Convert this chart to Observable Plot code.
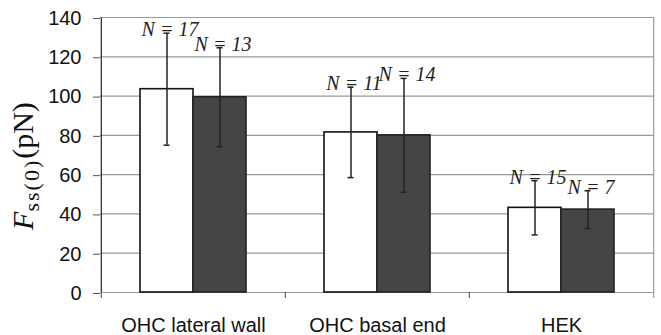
<!DOCTYPE html>
<html><head><meta charset="utf-8">
<script src="https://cdn.jsdelivr.net/npm/d3@7"></script>
<script src="https://cdn.jsdelivr.net/npm/@observablehq/plot@0.6"></script>
<style>body{margin:0;background:#fff}</style>
</head><body><div id="chart"></div>
<script>
const categories = ["OHC lateral wall", "OHC basal end", "HEK"];
const whiteMeans = [103.5, 81.5, 43.1];
const whiteErr = [28.5, 23, 13.8];
const whiteN = [17, 11, 15];
const darkMeans = [99.4, 80, 42.2];
const darkErr = [25.2, 29, 9.6];
const darkN = [13, 14, 7];
const yTicks = [0, 20, 40, 60, 80, 100, 120, 140];

const W = 661, H = 335, ml = 100, mr = 8, mt = 17, mb = 43;
const pIn = 0.425, pOut = pIn / 2;
const step = (W - ml - mr) / categories.length;
const half = step * (1 - pIn) / 2;

const white = categories.map((c, i) => ({cat: c, mean: whiteMeans[i], lo: whiteMeans[i] - whiteErr[i], hi: whiteMeans[i] + whiteErr[i], n: whiteN[i]}));
const dark = categories.map((c, i) => ({cat: c, mean: darkMeans[i], lo: darkMeans[i] - darkErr[i], hi: darkMeans[i] + darkErr[i], n: darkN[i]}));

const capW = 3;
const errMarks = (rows, side) => {
  const off = side * half / 2;
  return [
    Plot.ruleX(rows, {x: "cat", y1: "lo", y2: "hi", dx: off, stroke: "#222", strokeWidth: 1.5}),
    Plot.tickY(rows, {x: "cat", y: "hi", stroke: "#222", strokeWidth: 1.5,
      insetLeft: half + off - capW, insetRight: half - off - capW}),
    Plot.tickY(rows, {x: "cat", y: "lo", stroke: "#222", strokeWidth: 1.5,
      insetLeft: half + off - capW, insetRight: half - off - capW}),
    Plot.text(rows, {x: "cat", y: "hi", text: d => `N = ${d.n}`, dx: off + 3, dy: 3, lineAnchor: "bottom",
      fontFamily: "Liberation Serif", fontStyle: "italic", fontSize: 20, fill: "#222"})
  ];
};

const chart = Plot.plot({
  width: W, height: H,
  marginLeft: ml, marginRight: mr, marginTop: mt, marginBottom: mb,
  style: {fontFamily: "Liberation Sans", background: "#fff", color: "#111"},
  x: {type: "band", domain: categories, paddingInner: pIn, paddingOuter: pOut},
  y: {domain: [0, 140]},
  marks: [
    Plot.ruleY(yTicks, {stroke: "#999", strokeWidth: 1.2}),
    Plot.ruleX([categories[categories.length - 1]], {x: d => d, dx: step / 2, stroke: "#999", strokeWidth: 1.2}),
    Plot.ruleX(categories, {x: d => d, y1: 0, y2: 0, dx: -step / 2, insetBottom: -6, stroke: "#666", strokeWidth: 1.2}),
    Plot.ruleX([categories[categories.length - 1]], {x: d => d, y1: 0, y2: 0, dx: step / 2, insetBottom: -6, stroke: "#999", strokeWidth: 1.2}),
    Plot.barY(white, {x: "cat", y: "mean", fill: "#fff", stroke: "#111", strokeWidth: 1.6, insetRight: half}),
    Plot.barY(dark, {x: "cat", y: "mean", fill: "#454545", stroke: "#222", strokeWidth: 1.6, insetLeft: half}),
    ...errMarks(white, -1),
    ...errMarks(dark, 1),
    Plot.ruleX([categories[0]], {x: d => d, dx: -step / 2, stroke: "#333", strokeWidth: 1.3}),
    Plot.axisY(yTicks, {tickSize: 7, tickPadding: 12, fontSize: 20, dy: 1, stroke: "#555", label: null}),
    Plot.axisX({tickSize: 0, tickPadding: 25, fontSize: 20, label: null})
  ]
});

const svg = d3.select(chart);
const lab = svg.append("text")
  .attr("transform", "translate(33,166) rotate(-90)")
  .attr("text-anchor", "middle")
  .attr("font-family", "Liberation Serif")
  .attr("fill", "#111");
lab.append("tspan").attr("font-size", 30).attr("font-style", "italic").text("F");
lab.append("tspan").attr("font-size", 22).attr("dy", 6).attr("letter-spacing", 2).text("ss(0)");
lab.append("tspan").attr("font-size", 30).attr("dy", -6).text("(pN)");

document.getElementById("chart").appendChild(chart);
</script>
</body></html>
